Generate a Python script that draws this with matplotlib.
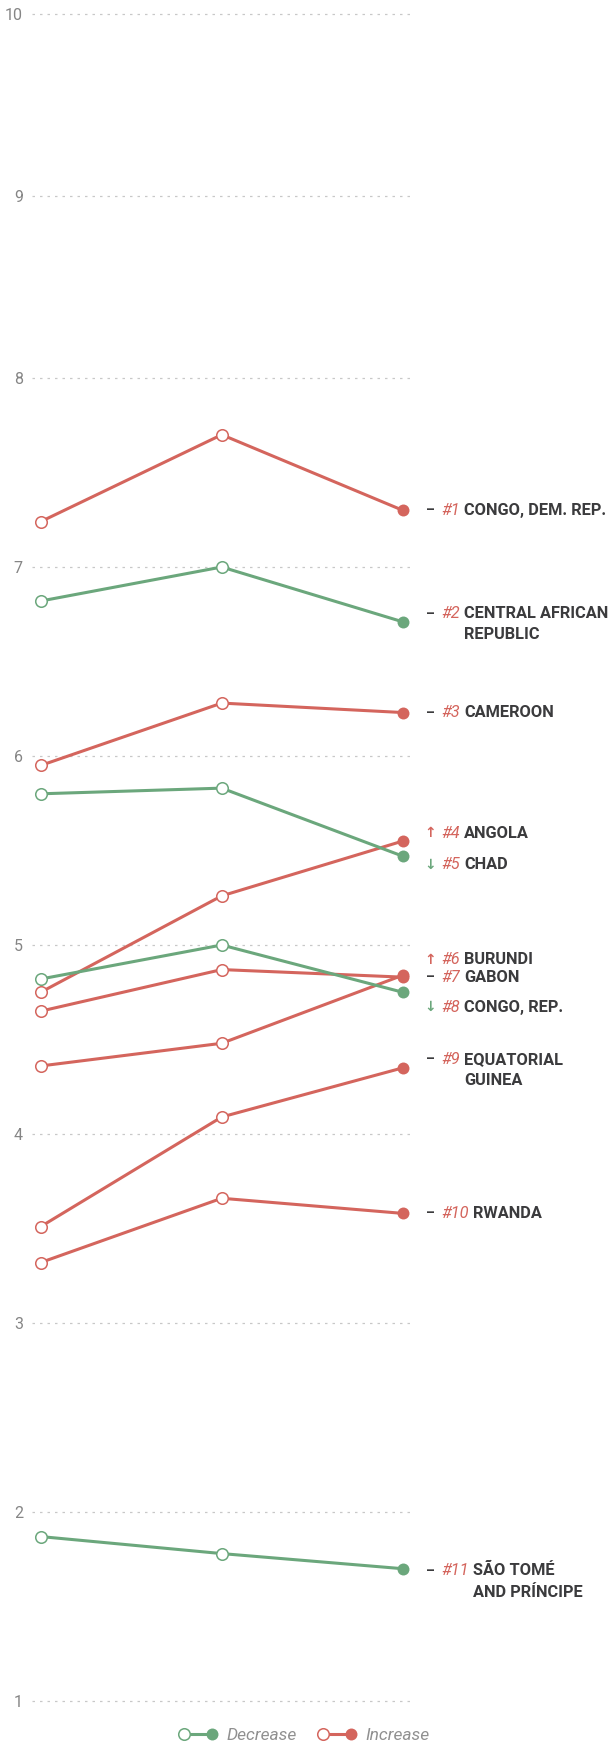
import matplotlib
matplotlib.use("Agg")
import matplotlib.pyplot as plt
import numpy as np
from matplotlib.lines import Line2D
from matplotlib.legend_handler import HandlerBase

plt.rcParams['font.family'] = ['Roboto', 'DejaVu Sans']

# data: three periods, countries in final rank order
names = ["CONGO, DEM. REP.", "CENTRAL AFRICAN\nREPUBLIC", "CAMEROON", "ANGOLA",
         "CHAD", "BURUNDI", "GABON", "CONGO, REP.", "EQUATORIAL\nGUINEA",
         "RWANDA", "SÃO TOMÉ\nAND PRÍNCIPE"]
first_vals = [7.24, 6.82, 5.95, 4.75, 5.80, 4.36, 4.65, 4.82, 3.51, 3.32, 1.87]
mid_vals = [7.70, 7.00, 6.28, 5.26, 5.83, 4.48, 4.87, 5.00, 4.09, 3.66, 1.78]
last_vals = [7.30, 6.71, 6.23, 5.55, 5.47, 4.84, 4.83, 4.75, 4.35, 3.58, 1.70]
rank_change = ["same", "same", "same", "up", "down", "up", "same", "down",
               "same", "same", "same"]
y_ticks = [1, 2, 3, 4, 5, 6, 7, 8, 9, 10]

# layout: vertical nudges of the labels (data units) so they don't collide
label_nudge = [0, 0.044, 0, 0.042, -0.044, 0.081, 0, -0.079, 0.046, 0, -0.01]

RED = "#d4655d"
GREEN = "#6ba77c"
DARK = "#3b3b3d"
GREY = "#858585"

# the top of the source axis is a little squeezed
K = 0.963
def fwd(v):
    v = np.asarray(v, dtype=float)
    return np.where(v <= 8, v, 8 + (v - 8) * K)
def inv(v):
    v = np.asarray(v, dtype=float)
    return np.where(v <= 8, v, 8 + (v - 8) / K)

Y0, Y1 = 0.97, 10.03
ppu = (1701 - 14) / (7 + 2 * K)
bot_px = 1701 + (1 - Y0) * ppu
top_px = 14 - (Y1 - 10) * K * ppu

fig = plt.figure(figsize=(6.13, 17.44), dpi=100)
ax = fig.add_axes([31.7 / 613, 1 - bot_px / 1744, (410 - 31.7) / 613, (bot_px - top_px) / 1744])
ax.set_yscale('function', functions=(fwd, inv))

x = [0, 1, 2]
for i in range(len(names)):
    ys = [first_vals[i], mid_vals[i], last_vals[i]]
    col = RED if ys[-1] >= ys[0] else GREEN
    ax.plot(x, ys, color=col, lw=2.2, zorder=3, solid_capstyle='round')
    ax.plot(x[:2], ys[:2], ls='none', marker='o', ms=8.3, mfc='white', mec=col, mew=1.1, zorder=4)
    ax.plot(x[2:], ys[2:], ls='none', marker='o', ms=8.6, mfc=col, mec=col, mew=0, zorder=4)

    ly = ys[-1] + label_nudge[i]
    if rank_change[i] == "up":
        sym, scol = "↑", RED
    elif rank_change[i] == "down":
        sym, scol = "↓", GREEN
    else:
        sym, scol = "–", DARK
    ax.text(2.151, ly, sym, color=scol, fontsize=10, fontweight='bold', ha='center', va='center',
            family=['DejaVu Sans'] if sym != "–" else None, clip_on=False)
    num = ax.text(2.212, ly, "#%d" % (i + 1), color=RED, fontsize=11.8, fontstyle='italic',
                  ha='left', va='center', clip_on=False)
    lines = names[i].split("\n")
    prev = ax.annotate(lines[0], xy=(1, 0), xycoords=num, xytext=(3.0, 0), textcoords='offset points',
                       ha='left', va='bottom', fontsize=11.8, fontweight='bold', color=DARK)
    for extra in lines[1:]:
        prev = ax.annotate(extra, xy=(0, 0), xycoords=prev, xytext=(0, 0.2), textcoords='offset points',
                           ha='left', va='bottom', fontsize=11.8, fontweight='bold', color=DARK)
        prev.xyann = (0, -13.3 + 0.0)
        prev.set_va('baseline')

ax.set_xlim(-0.0497, 2.040)
ax.set_ylim(Y0, Y1)
ax.set_yticks(y_ticks)
ax.set_yticklabels([str(t) for t in y_ticks])
ax.set_xticks([])
ax.tick_params(axis='y', length=0, pad=6.3, labelsize=11.5, labelcolor=GREY)
ax.grid(axis='y', color='#c8c8c8', lw=0.9, linestyle=(0, (2, 4)))
for s in ax.spines.values():
    s.set_visible(False)


class SlopeHandler(HandlerBase):
    def create_artists(self, legend, orig_handle, xdescent, ydescent, width, height, fontsize, trans):
        col = orig_handle.get_color()
        y = height / 2 - ydescent
        x0, x1 = -xdescent, width - xdescent
        ln = Line2D([x0, x1], [y, y], color=col, lw=2.2)
        m0 = Line2D([x0], [y], ls='none', marker='o', ms=8.3, mfc='white', mec=col, mew=1.1)
        m1 = Line2D([x1], [y], ls='none', marker='o', ms=8.6, mfc=col, mec=col, mew=0)
        for a in (ln, m0, m1):
            a.set_transform(trans)
        return [ln, m0, m1]


handles = [Line2D([], [], color=GREEN), Line2D([], [], color=RED)]
leg = fig.legend(handles, ["Decrease", "Increase"], loc='center', bbox_to_anchor=(0.5, 9 / 1744),
                 ncol=2, frameon=False, handlelength=1.65, handletextpad=0.8, columnspacing=1.5,
                 borderpad=0, prop={'size': 12.5, 'style': 'italic'},
                 handler_map={Line2D: SlopeHandler()})
for t in leg.get_texts():
    t.set_color("#909090")

fig.savefig("out.png", dpi=100)
